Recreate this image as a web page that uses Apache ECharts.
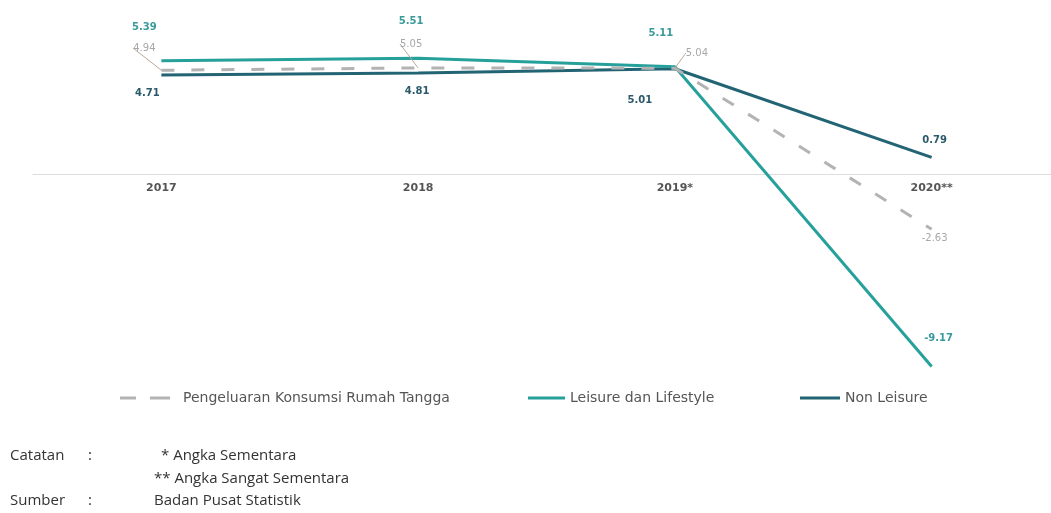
<!DOCTYPE html>
<html>
<head>
<meta charset="utf-8">
<script src="https://cdn.jsdelivr.net/npm/echarts@6/dist/echarts.min.js"></script>
<style>
html,body{margin:0;padding:0;background:#fff;overflow:hidden;}
#main{width:1060px;height:513px;}
</style>
</head>
<body>
<div id="main"></div>
<script>
var categories = ['2017', '2018', '2019*', '2020**'];
var rumahTangga = [4.94, 5.05, 5.04, -2.63];
var leisure = [5.39, 5.51, 5.11, -9.17];
var nonLeisure = [4.71, 4.81, 5.01, 0.79];

var seriesNames = ['Pengeluaran Konsumsi Rumah Tangga', 'Leisure dan Lifestyle', 'Non Leisure'];

// label offsets [dx, dy] relative to each point (styling)
var rtOffsets = [[-17, -22], [-7, -24], [22, -15], [3, 9]];
var leOffsets = [[-17, -33], [-7, -37], [-14, -33], [7, -28]];
var nlOffsets = [[-14, 18], [-1, 18], [-35, 32], [3, -17]];
var rtLeader = [true, true, true, false];

var offsetsBySeries = [rtOffsets, leOffsets, nlOffsets];

var chart = echarts.init(document.getElementById('main'));

function mkLabel(color, weight) {
  return {
    show: true,
    position: 'inside',
    color: color,
    fontSize: 10,
    fontWeight: weight,
    fontFamily: 'DejaVu Sans',
    formatter: function (p) { return Number(p.value).toFixed(2); }
  };
}

function layoutFn(params) {
  var off = offsetsBySeries[params.seriesIndex][params.dataIndex];
  return { dx: off[0], dy: off[1] };
}

var rtData = rumahTangga.map(function (v, i) {
  return { value: v, labelLine: { show: rtLeader[i] } };
});

var legendText = { color: '#555', fontSize: 14, fontFamily: 'DejaVu Sans' };
var legendTextGray = { color: '#555', fontSize: 14, fontFamily: 'DejaVu Sans', padding: [0, 0, 0, 8] };

var option = {
  animation: false,
  backgroundColor: '#fff',
  grid: { left: 33, right: 0, top: 48, height: 126 },
  xAxis: {
    type: 'category',
    data: categories,
    boundaryGap: true,
    axisLine: { lineStyle: { color: '#dddddd', width: 1 } },
    axisTick: { show: false },
    axisLabel: { color: '#555', fontSize: 11, fontWeight: 'bold', fontFamily: 'DejaVu Sans', margin: 9 }
  },
  yAxis: {
    type: 'value', min: 0, max: 6, show: false, splitLine: { show: false }
  },
  legend: [
    {
      data: [{ name: seriesNames[0], icon: 'path://M0,0H16V3H0ZM30,0H50V3H30Z' }],
      left: 115, top: 386, itemWidth: 50, itemHeight: 3, itemGap: 0,
      textStyle: legendTextGray
    },
    {
      data: [{ name: seriesNames[1], icon: 'rect' }],
      left: 523, top: 386, itemWidth: 37, itemHeight: 3,
      textStyle: legendText
    },
    {
      data: [{ name: seriesNames[2], icon: 'rect' }],
      left: 795, top: 386, itemWidth: 40, itemHeight: 3,
      textStyle: legendText
    }
  ],
  series: [
    {
      name: seriesNames[0], type: 'line', data: rtData, z: 4, clip: false,
      symbol: 'circle', symbolSize: 0, showSymbol: true,
      lineStyle: { color: '#b3b3b3', width: 3, type: [13, 17] },
      itemStyle: { color: '#b3b3b3' },
      label: mkLabel('#a8a8a8', 'normal'),
      labelLayout: layoutFn,
      labelLine: { show: true, lineStyle: { color: '#b8a898', width: 1 } }
    },
    {
      name: seriesNames[1], type: 'line', data: leisure, z: 3, clip: false,
      symbol: 'circle', symbolSize: 0, showSymbol: true,
      lineStyle: { color: '#26a09b', width: 3 },
      itemStyle: { color: '#26a09b' },
      label: mkLabel('#3a9a9a', 'bold'),
      labelLayout: layoutFn
    },
    {
      name: seriesNames[2], type: 'line', data: nonLeisure, z: 2, clip: false,
      symbol: 'circle', symbolSize: 0, showSymbol: true,
      lineStyle: { color: '#226473', width: 3 },
      itemStyle: { color: '#226473' },
      label: mkLabel('#2a5a6a', 'bold'),
      labelLayout: layoutFn
    }
  ],
  graphic: [
    { type: 'text', left: 10, top: 448, style: { text: 'Catatan', fontSize: 15, fontFamily: 'Open Sans', fill: '#333' } },
    { type: 'text', left: 88, top: 448, style: { text: ':', fontSize: 15, fontFamily: 'Open Sans', fill: '#333' } },
    { type: 'text', left: 161, top: 448, style: { text: '* Angka Sementara', fontSize: 15, fontFamily: 'Open Sans', fill: '#333' } },
    { type: 'text', left: 154, top: 471, style: { text: '** Angka Sangat Sementara', fontSize: 15, fontFamily: 'Open Sans', fill: '#333' } },
    { type: 'text', left: 10, top: 493, style: { text: 'Sumber', fontSize: 15, fontFamily: 'Open Sans', fill: '#333' } },
    { type: 'text', left: 88, top: 493, style: { text: ':', fontSize: 15, fontFamily: 'Open Sans', fill: '#333' } },
    { type: 'text', left: 154, top: 493, style: { text: 'Badan Pusat Statistik', fontSize: 15, fontFamily: 'Open Sans', fill: '#333' } }
  ]
};
chart.setOption(option);
</script>
</body>
</html>
